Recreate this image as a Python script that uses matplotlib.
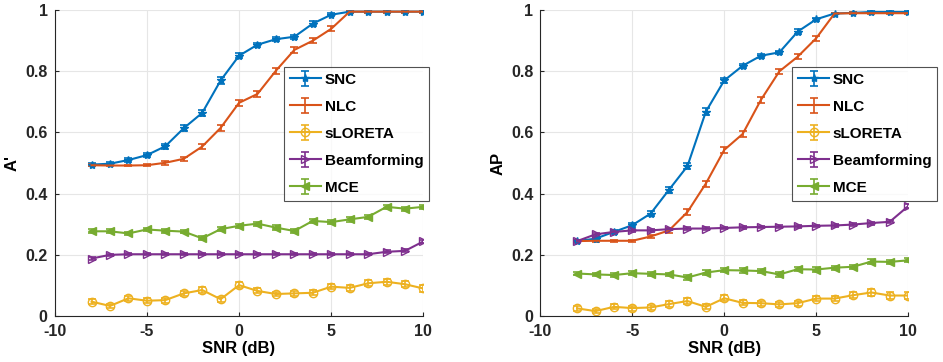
import matplotlib.pyplot as plt
import numpy as np

plt.rcParams['font.family'] = ['Liberation Sans', 'DejaVu Sans']
plt.rcParams['font.weight'] = 'bold'
plt.rcParams['font.size'] = 11
plt.rcParams['axes.unicode_minus'] = False

snr = np.arange(-8, 11, 1)
labels = ['SNC', 'NLC', 'sLORETA', 'Beamforming', 'MCE']

# A' (left panel)
a_snc = [0.495, 0.498, 0.51, 0.526, 0.555, 0.614, 0.664, 0.77, 0.851, 0.887,
         0.905, 0.913, 0.956, 0.985, 0.995, 0.995, 0.995, 0.995, 0.995]
a_nlc = [0.493, 0.492, 0.492, 0.493, 0.501, 0.514, 0.554, 0.615, 0.697, 0.726,
         0.802, 0.87, 0.9, 0.939, 0.995, 0.995, 0.995, 0.995, 0.995]
a_slor = [0.047, 0.033, 0.058, 0.05, 0.052, 0.074, 0.085, 0.055, 0.101, 0.082,
          0.072, 0.074, 0.076, 0.096, 0.092, 0.107, 0.112, 0.104, 0.09]
a_beam = [0.188, 0.2, 0.202, 0.202, 0.202, 0.202, 0.202, 0.202, 0.202, 0.202,
          0.202, 0.202, 0.202, 0.202, 0.202, 0.202, 0.21, 0.213, 0.244]
a_mce = [0.277, 0.277, 0.27, 0.283, 0.279, 0.276, 0.254, 0.284, 0.295, 0.302,
         0.289, 0.278, 0.311, 0.307, 0.316, 0.324, 0.357, 0.351, 0.357]

# AP (right panel)
p_snc = [0.245, 0.253, 0.275, 0.297, 0.335, 0.413, 0.49, 0.668, 0.77, 0.818,
         0.851, 0.862, 0.93, 0.97, 0.989, 0.991, 0.994, 0.994, 0.994]
p_nlc = [0.245, 0.246, 0.246, 0.246, 0.26, 0.28, 0.34, 0.433, 0.543, 0.595,
         0.707, 0.8, 0.848, 0.908, 0.989, 0.99, 0.99, 0.99, 0.99]
p_slor = [0.025, 0.016, 0.03, 0.026, 0.028, 0.039, 0.049, 0.03, 0.058, 0.043,
          0.042, 0.038, 0.042, 0.057, 0.057, 0.068, 0.077, 0.067, 0.067]
p_beam = [0.245, 0.267, 0.275, 0.28, 0.28, 0.284, 0.286, 0.286, 0.288, 0.29,
          0.291, 0.292, 0.293, 0.295, 0.296, 0.299, 0.304, 0.308, 0.359]
p_mce = [0.139, 0.136, 0.134, 0.14, 0.138, 0.136, 0.126, 0.142, 0.15, 0.149,
         0.147, 0.136, 0.153, 0.152, 0.158, 0.161, 0.178, 0.177, 0.182]

# standard errors (rough)
err_snc = [0.004, 0.005, 0.006, 0.007, 0.008, 0.01, 0.01, 0.012, 0.009, 0.007,
           0.006, 0.006, 0.007, 0.005, 0.003, 0.003, 0.003, 0.003, 0.003]
err_nlc = [0.003, 0.003, 0.003, 0.004, 0.006, 0.007, 0.009, 0.01, 0.01, 0.01,
           0.01, 0.009, 0.008, 0.008, 0.003, 0.003, 0.003, 0.003, 0.003]
err_slor = [0.008, 0.007, 0.008, 0.008, 0.008, 0.009, 0.009, 0.008, 0.01, 0.008,
            0.008, 0.008, 0.008, 0.009, 0.009, 0.01, 0.01, 0.01, 0.01]
err_beam = [0.005, 0.004, 0.004, 0.004, 0.004, 0.004, 0.004, 0.004, 0.004, 0.004,
            0.004, 0.004, 0.004, 0.004, 0.004, 0.004, 0.005, 0.005, 0.006]
err_mce = [0.006, 0.006, 0.006, 0.006, 0.006, 0.006, 0.007, 0.007, 0.007, 0.007,
           0.007, 0.007, 0.007, 0.007, 0.007, 0.007, 0.007, 0.007, 0.007]

colors = ['#0072BD', '#D95319', '#EDB120', '#7E2F8E', '#77AC30']
markers = ['*', '', 'o', '>', '<']
faces = [None, None, 'none', 'none', None]
errs = [err_snc, err_nlc, err_slor, err_beam, err_mce]

fig = plt.figure(figsize=(9.43, 3.62), dpi=100)
ax1 = fig.add_axes([0.058, 0.127, 0.391, 0.845])
ax2 = fig.add_axes([0.573, 0.127, 0.390, 0.845])

panels = [(ax1, [a_snc, a_nlc, a_slor, a_beam, a_mce], "A'", 0.622),
          (ax2, [p_snc, p_nlc, p_slor, p_beam, p_mce], 'AP', 0.685)]

for ax, series, ylab, legx in panels:
    for vals, err, c, m, fc, lab in zip(series, errs, colors, markers, faces, labels):
        kw = dict(markerfacecolor=fc) if fc else {}
        ax.errorbar(snr, vals, yerr=err, color=c, marker=m, markersize=6,
                    linewidth=1.5, elinewidth=1.2, capsize=3, capthick=1.2,
                    label=lab, **kw)
    ax.set_xlim(-10, 10)
    ax.set_ylim(0, 1)
    ax.set_xticks([-10, -5, 0, 5, 10])
    ax.set_yticks([0, 0.2, 0.4, 0.6, 0.8, 1])
    ax.set_yticklabels(['0', '0.2', '0.4', '0.6', '0.8', '1'])
    ax.set_xlabel('SNR (dB)', fontweight='bold', fontsize=12, labelpad=1)
    ax.set_ylabel(ylab, fontweight='bold', fontsize=12)
    ax.grid(True, color='#e6e6e6', linewidth=0.8)
    ax.set_axisbelow(True)
    ax.spines['top'].set_visible(False)
    ax.spines['right'].set_visible(False)
    for s in ['left', 'bottom']:
        ax.spines[s].set_color('#262626')
        ax.spines[s].set_linewidth(0.8)
    ax.tick_params(direction='in', length=3, colors='#262626', labelsize=11.5)
    ax.tick_params(axis='x', pad=6)
    ax.tick_params(axis='y', pad=5)
    leg = ax.legend(loc='upper left', bbox_to_anchor=(legx, 0.815), frameon=True,
                    fancybox=False, edgecolor='#262626', handlelength=2.0,
                    borderpad=0.4, labelspacing=0.85, handletextpad=0.25,
                    borderaxespad=0, prop={'weight': 'bold', 'size': 11})
    leg.get_frame().set_linewidth(0.8)

fig.savefig('out.png', dpi=100)
